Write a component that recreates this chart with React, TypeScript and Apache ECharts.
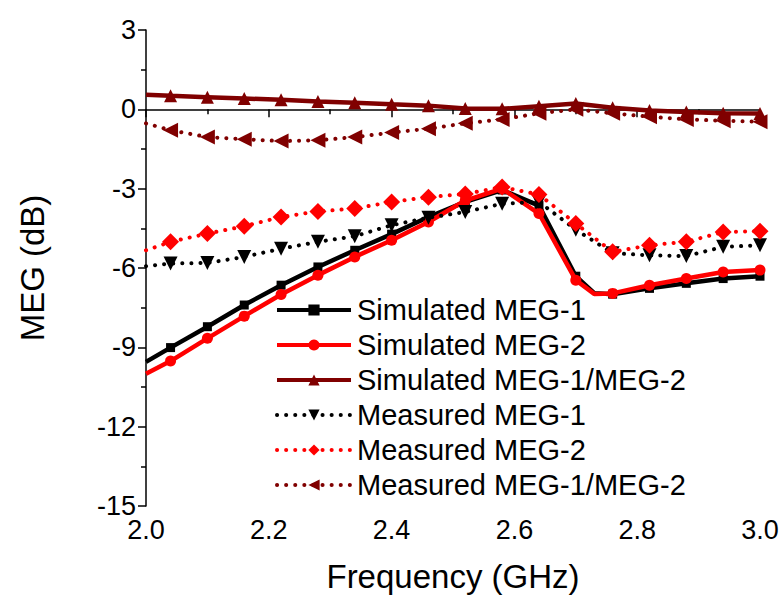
import React, { useEffect, useRef } from "react";
import * as echarts from "echarts";

const freqs = [2.0, 2.04, 2.10, 2.16, 2.22, 2.28, 2.34, 2.40, 2.46, 2.52, 2.58, 2.64, 2.70, 2.73, 2.76, 2.82, 2.88, 2.94, 3.0];
// null = no reading at that frequency for the series
const simMEG1 = [-9.55, -9.01, -8.22, -7.40, -6.65, -5.96, -5.33, -4.72, -4.07, -3.5, -3.05, -3.64, -6.31, -6.95, -6.99, -6.77, -6.58, -6.40, -6.31];
const simMEG2 = [-10.0, -9.52, -8.66, -7.82, -7.0, -6.27, -5.58, -4.95, -4.26, -3.45, -3.0, -3.94, -6.46, -6.98, -6.96, -6.65, -6.40, -6.15, -6.08];
const simRatio = [0.55, 0.51, 0.46, 0.41, 0.36, 0.30, 0.25, 0.19, 0.14, 0.03, 0.02, 0.12, 0.22, null, 0.06, -0.04, -0.10, -0.15, -0.16];
const measMEG1 = [-5.93, -5.83, -5.81, -5.58, -5.27, -5.01, -4.8, -4.38, -4.1, -3.88, -3.57, -3.5, -4.55, null, -5.44, -5.52, -5.55, -5.2, -5.14];
const measMEG2 = [-5.33, -5.01, -4.70, -4.42, -4.07, -3.86, -3.75, -3.5, -3.32, -3.2, -2.94, -3.22, -4.32, null, -5.39, -5.14, -5.01, -4.64, -4.61];
const measRatio = [-0.53, -0.79, -1.05, -1.13, -1.2, -1.17, -1.05, -0.88, -0.73, -0.53, -0.38, -0.15, 0.0, null, -0.15, -0.28, -0.38, -0.43, -0.47];
// frequencies where the markers are drawn
const markerFreqs = [2.04, 2.10, 2.16, 2.22, 2.28, 2.34, 2.40, 2.46, 2.52, 2.58, 2.64, 2.70, 2.76, 2.82, 2.88, 2.94, 3.0];

const seriesNames = [
  "Simulated MEG-1",
  "Simulated MEG-2",
  "Simulated MEG-1/MEG-2",
  "Measured MEG-1",
  "Measured MEG-2",
  "Measured MEG-1/MEG-2",
];
const yTicks = [-15, -12, -9, -6, -3, 0, 3];
const xTicks = [2.0, 2.2, 2.4, 2.6, 2.8, 3.0];

const FONT = "Liberation Sans";

function buildData(vals: (number | null)[]) {
  const out: any[] = [];
  freqs.forEach((f, i) => {
    const v = vals[i];
    if (v === null || v === undefined) return;
    const hasMarker = markerFreqs.some((m) => Math.abs(m - f) < 1e-6);
    out.push(hasMarker ? { value: [f, v] } : { value: [f, v], symbol: "none" });
  });
  return out;
}

export default function App() {
  const ref = useRef<HTMLDivElement>(null);
  useEffect(() => {
    document.body.style.margin = "0";
    const chart = echarts.init(ref.current!, null, { renderer: "svg" });
    const dotted = { type: [0.1, 9] as any, cap: "round" as any, width: 4 };
    const solid = { type: "solid" as any, width: 4.5 };
    const defs = [
      { vals: simMEG1, color: "#000000", line: solid, symbol: "rect", size: 9, rot: 0 },
      { vals: simMEG2, color: "#ff0000", line: solid, symbol: "circle", size: 11, rot: 0 },
      { vals: simRatio, color: "#800000", line: solid, symbol: "triangle", size: 13, rot: 0 },
      { vals: measMEG1, color: "#000000", line: dotted, symbol: "triangle", size: 14, rot: 180 },
      { vals: measMEG2, color: "#ff0000", line: dotted, symbol: "diamond", size: 17, rot: 0 },
      { vals: measRatio, color: "#800000", line: dotted, symbol: "triangle", size: 15, rot: 90 },
    ];
    chart.setOption({
      animation: false,
      backgroundColor: "#ffffff",
      grid: { left: 146, right: 23, top: 30, bottom: 97 },
      legend: {
        orient: "vertical",
        left: 270,
        top: 290,
        itemWidth: 74,
        itemHeight: 14,
        itemGap: 5,
        lineStyle: { width: 4 },
        textStyle: { fontFamily: FONT, fontSize: 29, color: "#000", lineHeight: 30, padding: [0, 0, 0, 1] },
        data: seriesNames,
      },
      xAxis: {
        type: "value",
        min: 2.0,
        max: 3.0,
        interval: 0.2,
        name: "Frequency (GHz)",
        nameLocation: "middle",
        nameGap: 54,
        nameTextStyle: { fontFamily: FONT, fontSize: 33, color: "#000" },
        axisLine: { lineStyle: { color: "#000", width: 1.5 } },
        axisTick: { inside: false, length: 8, lineStyle: { color: "#000", width: 1.5 } },
        minorTick: { show: true, splitNumber: 2, length: 5, lineStyle: { color: "#000", width: 1.5 } },
        splitLine: { show: false },
        axisLabel: {
          fontFamily: FONT,
          fontSize: 27,
          color: "#000",
          margin: 10,
          formatter: (v: number) => {
            const t = xTicks.find((x) => Math.abs(x - v) < 1e-6);
            return t !== undefined ? t.toFixed(1) : "";
          },
        },
      },
      yAxis: {
        type: "value",
        min: -15,
        max: 3,
        interval: 3,
        name: "MEG (dB)",
        nameLocation: "middle",
        nameGap: 97,
        nameTextStyle: { fontFamily: FONT, fontSize: 33, color: "#000" },
        axisLine: { show: true, lineStyle: { color: "#000", width: 1.5 } },
        axisTick: { show: true, inside: false, length: 8, lineStyle: { color: "#000", width: 1.5 } },
        minorTick: { show: true, splitNumber: 2, length: 5, lineStyle: { color: "#000", width: 1.5 } },
        splitLine: { show: false },
        axisLabel: {
          fontFamily: FONT,
          fontSize: 27,
          color: "#000",
          margin: 10,
          formatter: (v: number) => {
            const t = yTicks.find((y) => Math.abs(y - v) < 1e-6);
            return t !== undefined ? String(t) : "";
          },
        },
      },
      series: defs.map((d, i) => ({
        name: seriesNames[i],
        type: "line",
        data: buildData(d.vals),
        symbol: d.symbol,
        symbolSize: d.size,
        symbolRotate: d.rot,
        showAllSymbol: true,
        color: d.color,
        itemStyle: { color: d.color },
        lineStyle: { color: d.color, ...d.line },
        z: 2 + i,
      })),
    });
    return () => chart.dispose();
  }, []);
  return <div ref={ref} style={{ width: 783, height: 603 }} />;
}
